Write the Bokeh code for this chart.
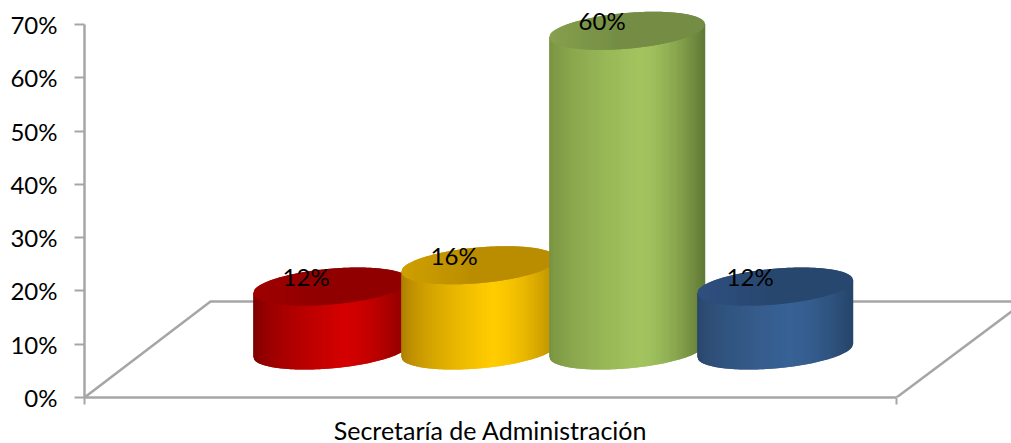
import numpy as np
from bokeh.plotting import figure
from bokeh.models import Range1d, FixedTicker, ColumnDataSource
from bokeh.core.properties import value
from bokeh.embed import file_html
from bokeh.resources import INLINE

category = "Secretaría de Administración"
values = [0.12, 0.16, 0.60, 0.12]
labels = ["12%", "16%", "60%", "12%"]
y_ticks = [0, 0.1, 0.2, 0.3, 0.4, 0.5, 0.6, 0.7]
side_edge_left = ["#7a0000", "#a87a00", "#76903f", "#2a4668"]
side_mid = ["#d40000", "#ffcc00", "#a3c45f", "#386296"]
side_edge_right = ["#860000", "#b98c00", "#5f7835", "#264569"]
top_left = ["#a00000", "#cfa000", "#87a04e", "#2f5080"]
top_right = ["#900000", "#bb8e00", "#748d44", "#294870"]

GREY = "#a6a6a6"
FONT = "Lato"
W, H = 1011, 443
L, B = 84, 46
FW, FH = W - L, H - B
SX = 812.0            # pixels per unit of the category band
SY = 373.0 / 0.7      # pixels per unit of the value axis

p = figure(width=W, height=H, frame_width=FW, frame_height=FH, output_backend="svg",
           toolbar_location=None, x_range=Range1d(0, FW / SX), y_range=Range1d(0, FH / SY),
           min_border_left=L, min_border_right=0, min_border_top=0, min_border_bottom=B,
           background_fill_color="white", border_fill_color="white",
           outline_line_color=None)
p.grid.visible = False

ya = p.yaxis[0]
ya.bounds = (0, 0.7)
ya.ticker = FixedTicker(ticks=y_ticks)
ya.major_label_overrides = {t: f"{round(t * 100)}%" for t in y_ticks}
ya.axis_line_color = GREY
ya.axis_line_width = 2.5
ya.major_tick_line_color = GREY
ya.major_tick_line_width = 2
ya.major_tick_out = 10
ya.major_tick_in = 0
ya.minor_tick_line_color = None
ya.major_label_standoff = 17
ya.major_label_text_font = FONT
ya.major_label_text_font_size = "24px"
ya.major_label_text_color = "black"

xa = p.xaxis[0]
xa.bounds = (0, 1)
xa.ticker = FixedTicker(ticks=[0.5], minor_ticks=[0, 1])
xa.major_label_overrides = {0.5: category}
xa.axis_line_color = GREY
xa.axis_line_width = 2.5
xa.major_tick_line_color = None
xa.major_tick_out = 0
xa.major_tick_in = 0
xa.minor_tick_line_color = GREY
xa.minor_tick_line_width = 2
xa.minor_tick_out = 7
xa.minor_tick_in = 0
xa.major_label_text_font = FONT
xa.major_label_text_font_size = "25px"
xa.major_label_text_color = "black"
xa.major_label_standoff = 10

# floor of the 3-D chart
fx0, fx1, fy = 126 / SX, 1.1416, 96 / SY
p.line([0, fx0, fx1], [0, fy, fy], line_color=GREY, line_width=2.5)
p.line([1, 1.1416], [0, 86 / SY], line_color=GREY, line_width=2.5)

A = 78.0 / SX                 # half width of a cylinder
BH = 17.9 / SY                # half height of its ellipse
KT = (6.5 / SY) / (78 / SX)   # shear of the ellipse
BASE = 47 / SY                # height of the base centre above the axis
STEP, MID = 148 / SX, 0.4860


def lerp(c0, c1, t):
    a = np.array([int(c0[i:i + 2], 16) for i in (1, 3, 5)], float)
    b = np.array([int(c1[i:i + 2], 16) for i in (1, 3, 5)], float)
    r = a + (b - a) * t
    return "#%02x%02x%02x" % tuple(int(round(v)) for v in r)


N = 156
for i, v in enumerate(values):
    cx = MID + (i - 1) * STEP
    top = BASE + v
    u = np.linspace(-1, 1, N + 1)
    xs = cx + A * u
    arc = BH * np.sqrt(np.clip(1 - u ** 2, 0, None))
    shear = KT * (xs - cx)

    sx, sy, sc, tx, ty, tc = [], [], [], [], [], []
    for j in range(N):
        k = min(j + 2, N)          # each strip overlaps the next, hiding seams
        t = (u[j] + u[j + 1]) / 4 + 0.5
        if t < 0.58:
            c = lerp(side_edge_left[i], side_mid[i], (t / 0.58) ** 0.6)
        else:
            c = lerp(side_mid[i], side_edge_right[i], ((t - 0.58) / 0.42) ** 1.6)
        sx.append([xs[j], xs[k], xs[k], xs[j]])
        sy.append([BASE + shear[j] - arc[j], BASE + shear[k] - arc[k],
                   top + shear[k], top + shear[j]])
        sc.append(c)
        tx.append([xs[j], xs[k], xs[k], xs[j]])
        ty.append([top + shear[j] - arc[j], top + shear[k] - arc[k],
                   top + shear[k] + arc[k], top + shear[j] + arc[j]])
        tc.append(lerp(top_left[i], top_right[i], min(t * 2.2, 1)))
    p.patches(sx, sy, fill_color=sc, fill_alpha=1, line_color=None)
    p.patches(tx, ty, fill_color=tc, fill_alpha=1, line_color=None)

lab = ColumnDataSource(dict(
    x=[MID + (i - 1) * STEP - 25 / SX for i in range(len(values))],
    y=[BASE + v + 10 / SY for v in values],
    t=labels))
p.text("x", "y", text="t", source=lab, text_font=value(FONT), text_font_size="24px",
       text_color="black", text_align="center", text_baseline="middle")

open("out.html", "w").write(file_html(p, INLINE))
